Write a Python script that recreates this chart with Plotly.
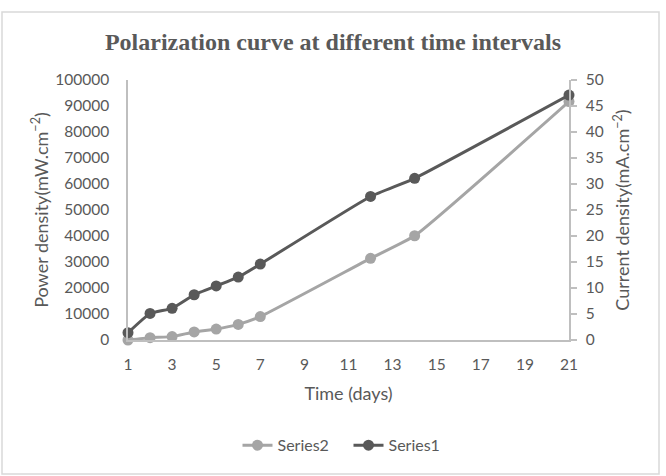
import plotly.graph_objects as go

days = [1, 2, 3, 4, 5, 6, 7, 12, 14, 21]
series2_power = [0, 900, 1300, 3100, 4200, 6000, 9000, 31400, 40100, 91700]
series1_current = [1.4, 5.1, 6.1, 8.7, 10.4, 12.1, 14.6, 27.6, 31.1, 47.1]

title_text = "Polarization curve at different time intervals"
x_title = "Time (days)"
y_title = "Power density(mW.cm<sup>\u22122</sup>)"
y2_title = "Current density(mA.cm<sup>\u22122</sup>)"

FONT = "Lato"
GREY = "#595959"
AXIS = "#bfbfbf"
TICKF = dict(family=FONT, size=15.5, color=GREY)
TITLEF = dict(family=FONT, size=18, color=GREY)

fig = go.Figure()
fig.add_trace(go.Scatter(
    x=days, y=series2_power, name="Series2", mode="lines+markers",
    line=dict(color="#a5a5a5", width=3, shape="spline", smoothing=0.4),
    marker=dict(color="#a5a5a5", size=11), cliponaxis=False, yaxis="y"))
fig.add_trace(go.Scatter(
    x=days, y=series1_current, name="Series1", mode="lines+markers",
    line=dict(color="#595959", width=3, shape="spline", smoothing=0.4),
    marker=dict(color="#595959", size=11), cliponaxis=False, yaxis="y2"))

fig.update_layout(
    width=666, height=476,
    margin=dict(l=128, r=97, t=80, b=136, autoexpand=False),
    paper_bgcolor="white", plot_bgcolor="white",
    font=dict(family=FONT, size=15, color=GREY),
    title=dict(text="<b>" + title_text + "</b>", x=0.5, xanchor="center",
               y=1 - 42 / 476, yanchor="middle",
               font=dict(family="Liberation Serif", size=24, color=GREY)),
    showlegend=True,
    legend=dict(orientation="h", x=0.5, xanchor="center", y=-0.405, yanchor="middle",
                font=dict(family=FONT, size=16, color=GREY), traceorder="normal",
                entrywidth=66, itemwidth=30),
    xaxis=dict(range=[1, 21], tick0=1, dtick=2, showgrid=False, zeroline=False,
               showline=True, linecolor=AXIS, linewidth=1.5, ticks="",
               ticklabelstandoff=10, tickfont=TICKF,
               title=dict(text=x_title, standoff=15, font=TITLEF)),
    yaxis=dict(range=[0, 100000], dtick=10000, tickformat="d", showgrid=False, zeroline=False,
               showline=True, linecolor=AXIS, linewidth=1.5, ticks="",
               ticklabelstandoff=14, tickfont=TICKF,
               title=dict(text=y_title, standoff=2, font=TITLEF)),
    yaxis2=dict(range=[0, 50], dtick=5, overlaying="y", side="right", showgrid=False,
                zeroline=False, showline=True, linecolor=AXIS, linewidth=1.5,
                ticks="outside", ticklen=6, tickcolor=AXIS, tickwidth=1.5,
                ticklabelstandoff=6, tickfont=TICKF,
                title=dict(text=y2_title, standoff=14, font=TITLEF)),
    shapes=[dict(type="rect", xref="paper", yref="paper",
                 x0=(2 - 128) / 441, x1=(659 - 128) / 441,
                 y0=(340 - 474) / 260, y1=(340 - 12) / 260,
                 line=dict(color="#d9d9d9", width=1.5), layer="below")],
)

fig.write_html("out.html")
